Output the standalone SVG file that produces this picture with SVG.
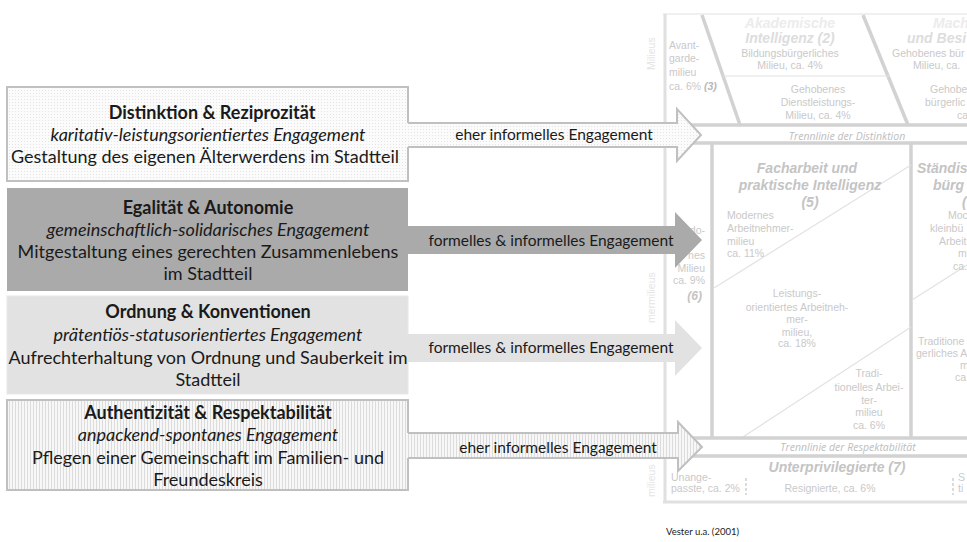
<svg xmlns="http://www.w3.org/2000/svg" width="967" height="542" viewBox="0 0 967 542">
<defs>
<pattern id="dots" width="3" height="3" patternUnits="userSpaceOnUse">
<rect width="3" height="3" fill="#fbfbfb"/>
<rect x="0" y="0" width="1" height="1" fill="#e4e4e4"/>
</pattern>
<pattern id="stripes" width="3" height="3" patternUnits="userSpaceOnUse">
<rect width="3" height="3" fill="#f7f7f7"/>
<rect x="0" y="0" width="1" height="3" fill="#dcdcdc"/>
</pattern>
<style>
.bgt{font-family:"Liberation Sans",Arial,sans-serif;font-size:10.5px;fill:#c9c9c9}
.bgh{font-family:"Liberation Sans",Arial,sans-serif;font-size:14px;font-weight:bold;font-style:italic;fill:#c4c4c4}
.bgi{font-family:"Open Sans",sans-serif;font-size:10.5px;font-style:italic;fill:#bdbdbd}
.thick{stroke:#d2d2d2;stroke-width:3.5;fill:none}
.thin{stroke:#e2e2e2;stroke-width:1.2;fill:none}
.frame{stroke:#e0e0e0;stroke-width:3;fill:none}
.box{stroke:#c0c0c0;stroke-width:2}
.t{font-family:Lato,"Open Sans",sans-serif;font-size:18px;fill:#1a1a1a;text-anchor:middle}
.b{font-weight:bold}
.i{font-style:italic}
.lbl{font-family:Lato,"Open Sans",sans-serif;font-size:15.5px;fill:#1a1a1a;text-anchor:middle}
.ash{stroke:#c0c0c0;stroke-width:2;fill:none}
</style>
</defs>
<rect width="967" height="542" fill="#ffffff"/>

<g id="background">
<line class="thin" x1="663" y1="14" x2="967" y2="14"/>
<line class="frame" x1="665" y1="14" x2="665" y2="502"/>
<line class="frame" x1="663" y1="502" x2="967" y2="502"/>
<line class="thick" x1="702" y1="15" x2="740" y2="125"/>
<line class="thick" x1="863" y1="15" x2="908" y2="125"/>
<line class="thin" x1="723" y1="76" x2="890" y2="76"/>
<line class="thick" x1="665" y1="125" x2="967" y2="125"/>
<line class="thick" x1="665" y1="143" x2="967" y2="143"/>
<line class="thick" x1="712" y1="143" x2="712" y2="438"/>
<line class="thick" x1="911" y1="143" x2="911" y2="438"/>
<line class="thin" x1="714" y1="288" x2="911" y2="165"/>
<line class="thin" x1="743" y1="437" x2="911" y2="327"/>
<line class="thin" x1="912" y1="300" x2="967" y2="265"/>
<line class="thick" x1="665" y1="438" x2="967" y2="438"/>
<line class="thick" x1="665" y1="456" x2="967" y2="456"/>
<line stroke="#d0d0d0" stroke-width="1.5" stroke-dasharray="3,2" x1="746" y1="478" x2="746" y2="495"/>
<line stroke="#d0d0d0" stroke-width="1.5" stroke-dasharray="3,2" x1="953" y1="478" x2="953" y2="495"/>

<text class="bgt" transform="translate(655,70) rotate(-90)" style="fill:#e4e4e4">Milieus</text>
<text class="bgt" transform="translate(655,323) rotate(-90)" style="fill:#e4e4e4">mermilieus</text>
<text class="bgt" transform="translate(655,497) rotate(-90)" style="fill:#e4e4e4">milieus</text>

<text class="bgh" x="790" y="28" text-anchor="middle" style="fill:#ececec">Akademische</text>
<text class="bgh" x="790" y="43" text-anchor="middle" style="fill:#dddddd">Intelligenz (2)</text>
<text class="bgt" x="790" y="57" text-anchor="middle">Bildungsbürgerliches</text>
<text class="bgt" x="790" y="69" text-anchor="middle">Milieu, ca. 4%</text>
<text class="bgt" x="818" y="93" text-anchor="middle">Gehobenes</text>
<text class="bgt" x="818" y="106" text-anchor="middle">Dienstleistungs-</text>
<text class="bgt" x="818" y="119" text-anchor="middle">Milieu, ca. 4%</text>
<text class="bgt" x="669" y="49">Avant-</text>
<text class="bgt" x="669" y="62">garde-</text>
<text class="bgt" x="669" y="76">milieu</text>
<text class="bgt" x="669" y="90">ca. 6% <tspan font-weight="bold" font-style="italic" style="fill:#b8b8b8">(3)</tspan></text>
<text class="bgh" x="933" y="28" style="fill:#ececec">Mach</text>
<text class="bgh" x="907" y="43" style="fill:#dddddd">und Besi</text>
<text class="bgt" x="892" y="57">Gehobenes bür</text>
<text class="bgt" x="913" y="69">Milieu, ca.</text>
<text class="bgt" x="930" y="93">Gehobe</text>
<text class="bgt" x="925" y="106">bürgerlic</text>
<text class="bgt" x="957" y="119">ca</text>
<text class="bgi" x="847" y="140" text-anchor="middle">Trennlinie der Distinktion</text>

<text class="bgh" x="807" y="173" text-anchor="middle">Facharbeit und</text>
<text class="bgh" x="810" y="190" text-anchor="middle">praktische Intelligenz</text>
<text class="bgh" x="810" y="207" text-anchor="middle">(5)</text>
<text class="bgh" x="917" y="173">Ständis</text>
<text class="bgh" x="933" y="190">bürg</text>
<text class="bgh" x="962" y="207">(</text>
<text class="bgt" x="727" y="219">Modernes</text>
<text class="bgt" x="727" y="232">Arbeitnehmer-</text>
<text class="bgt" x="727" y="245">milieu</text>
<text class="bgt" x="727" y="257">ca. 11%</text>
<text class="bgt" x="948" y="219">Moc</text>
<text class="bgt" x="930" y="232">kleinbü</text>
<text class="bgt" x="939" y="245">Arbeit</text>
<text class="bgt" x="958" y="257">m</text>
<text class="bgt" x="953" y="270">ca.</text>
<text class="bgt" x="705" y="234" text-anchor="end">do-</text>
<text class="bgt" x="705" y="259" text-anchor="end">nes</text>
<text class="bgt" x="705" y="272" text-anchor="end">Milieu</text>
<text class="bgt" x="705" y="284" text-anchor="end">ca. 9%</text>
<text class="bgh" x="702" y="300" text-anchor="end" style="font-size:12px">(6)</text>
<text class="bgt" x="797" y="297" text-anchor="middle">Leistungs-</text>
<text class="bgt" x="797" y="311" text-anchor="middle">orientiertes Arbeitneh-</text>
<text class="bgt" x="797" y="323" text-anchor="middle">mer-</text>
<text class="bgt" x="797" y="336" text-anchor="middle">milieu,</text>
<text class="bgt" x="797" y="347" text-anchor="middle">ca. 18%</text>
<text class="bgt" x="918" y="345">Traditione</text>
<text class="bgt" x="916" y="357">gerliches A</text>
<text class="bgt" x="960" y="369">m</text>
<text class="bgt" x="955" y="381">ca</text>
<text class="bgt" x="869" y="377" text-anchor="middle">Tradi-</text>
<text class="bgt" x="869" y="391" text-anchor="middle">tionelles Arbei-</text>
<text class="bgt" x="869" y="404" text-anchor="middle">ter-</text>
<text class="bgt" x="869" y="416" text-anchor="middle">milieu</text>
<text class="bgt" x="869" y="429" text-anchor="middle">ca. 6%</text>
<text class="bgi" x="848" y="451" text-anchor="middle">Trennlinie der Respektabilität</text>
<text class="bgh" x="837" y="472" text-anchor="middle">Unterprivilegierte (7)</text>
<text class="bgt" x="671" y="481">Unange-</text>
<text class="bgt" x="671" y="492">passte, ca. 2%</text>
<text class="bgt" x="830" y="492" text-anchor="middle">Resignierte, ca. 6%</text>
<text class="bgt" x="958" y="481">S</text>
<text class="bgt" x="958" y="492">ti</text>
</g>

<g id="box-distinktion">
<rect class="box" x="7" y="87" width="401" height="94" fill="url(#dots)"/>
<text class="t b" x="212" y="119">Distinktion &amp; Reziprozität</text>
<text class="t i" x="208" y="141">karitativ-leistungsorientiertes Engagement</text>
<text class="t" x="205" y="163">Gestaltung des eigenen Älterwerdens im Stadtteil</text>
</g>

<g id="box-egalitaet">
<rect x="7" y="188" width="401" height="103" fill="#aaaaaa"/>
<text class="t b" x="208" y="214">Egalität &amp; Autonomie</text>
<text class="t i" x="208" y="236">gemeinschaftlich-solidarisches Engagement</text>
<text class="t" x="208" y="258">Mitgestaltung eines gerechten Zusammenlebens</text>
<text class="t" x="208" y="280">im Stadtteil</text>
</g>

<g id="box-ordnung">
<rect x="7" y="296" width="401" height="98" fill="#e2e2e2" stroke="#e8e8e8" stroke-width="1"/>
<text class="t b" x="208" y="318">Ordnung &amp; Konventionen</text>
<text class="t i" x="208" y="341">prätentiös-statusorientiertes Engagement</text>
<text class="t" x="208" y="364">Aufrechterhaltung von Ordnung und Sauberkeit im</text>
<text class="t" x="208" y="386">Stadtteil</text>
</g>

<g id="box-authentizitaet">
<rect class="box" x="7" y="400" width="401" height="90" fill="url(#stripes)"/>
<text class="t b" x="208" y="419">Authentizität &amp; Respektabilität</text>
<text class="t i" x="208" y="441">anpackend-spontanes Engagement</text>
<text class="t" x="208" y="464">Pflegen einer Gemeinschaft im Familien- und</text>
<text class="t" x="208" y="486">Freundeskreis</text>
</g>

<g id="connectors">
<path d="M406,123 H677 V109 L701,135 L677,161 V147 H406 Z" fill="url(#dots)"/>
<path class="ash" d="M408,123 H677 V109 L701,135 L677,161 V147 H408"/>
<text class="lbl" x="554" y="140">eher informelles Engagement</text>

<path d="M407,226 H675 V212 L702,240 L675,268 V254 H407 Z" fill="#aaaaaa"/>
<text class="lbl" x="551" y="246">formelles &amp; informelles Engagement</text>

<path d="M407,334 H675 V320 L702,348 L675,376 V362 H407 Z" fill="#e2e2e2"/>
<text class="lbl" x="551" y="353">formelles &amp; informelles Engagement</text>

<path d="M406,433 H678 V422 L702,447 L678,471 V458 H406 Z" fill="url(#stripes)"/>
<path class="ash" d="M408,433 H678 V422 L702,447 L678,471 V458 H408"/>
<text class="lbl" x="558" y="453">eher informelles Engagement</text>
</g>

<text x="666" y="535" style="font-family:Lato,'Open Sans',sans-serif;font-size:9.5px;fill:#1a1a1a">Vester u.a. (2001)</text>
</svg>
